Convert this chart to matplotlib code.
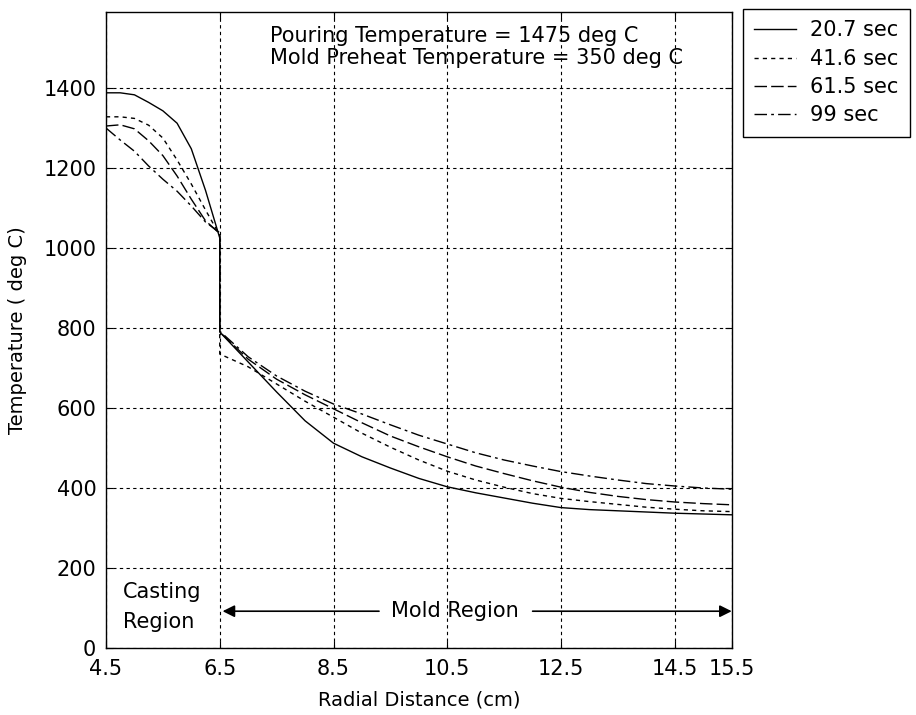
"""
Radial temperature profile through casting and mold at four times after pouring.
"""

import matplotlib
matplotlib.use('Agg')
import matplotlib.pyplot as plt

plt.rcParams.update({
    'font.family':      ['DejaVu Sans'],
    'font.size':        15,
    'axes.linewidth':   1.0,
    'axes.labelsize':   14,
    'xtick.direction':  'in',
    'ytick.direction':  'in',
    'xtick.top':        True,
    'ytick.right':      True,
    'xtick.major.size': 5,
    'ytick.major.size': 5,
    'xtick.major.pad':  8,
    'ytick.major.pad':  7,
    'xtick.labelsize':  15,
    'ytick.labelsize':  15,
})

# Radial positions (cm): casting side, then mold side (interface at 6.5 cm)
r_casting = [4.5, 4.75, 5.0, 5.25, 5.5, 5.75, 6.0, 6.25, 6.5]
r_mold    = [6.5, 7.0, 7.5, 8.0, 8.5, 9.0, 9.5, 10.0, 10.5, 11.0, 11.5,
             12.0, 12.5, 13.0, 13.5, 14.0, 14.5, 15.0, 15.5]

# Temperatures (deg C)
t207_casting = [1388, 1388, 1383, 1364, 1343, 1312, 1248, 1144, 1025]
t207_mold    = [790, 715, 640, 568, 512, 478, 450, 424, 403, 388, 375,
                362, 351, 346, 343, 340, 337, 335, 333]
t416_casting = [1328, 1328, 1324, 1307, 1275, 1220, 1160, 1095, 1032]
t416_mold    = [735, 703, 660, 617, 577, 537, 502, 470, 442, 420, 402,
                386, 374, 366, 359, 352, 347, 343, 341]
t615_casting = [1305, 1308, 1298, 1268, 1231, 1180, 1122, 1068, 1036]
t615_mold    = [790, 722, 672, 633, 598, 563, 530, 503, 478, 455, 436,
                418, 402, 389, 379, 371, 365, 361, 358]
t99_casting  = [1300, 1270, 1242, 1205, 1172, 1142, 1105, 1065, 1038]
t99_mold     = [792, 728, 680, 642, 610, 585, 558, 532, 510, 488, 470,
                455, 441, 430, 420, 411, 405, 400, 397]

labels = ['20.7 sec', '41.6 sec', '61.5 sec', '99 sec']
x_ticks = [4.5, 6.5, 8.5, 10.5, 12.5, 14.5, 15.5]
y_ticks = [0, 200, 400, 600, 800, 1000, 1200, 1400]

series = [
    (t207_casting, t207_mold, '-'),
    (t416_casting, t416_mold, (0, (3, 3))),
    (t615_casting, t615_mold, (0, (9, 3))),
    (t99_casting,  t99_mold,  (0, (9, 3, 2, 3))),
]

fig = plt.figure(figsize=(9.16, 7.15), dpi=100)
ax = fig.add_axes([0.1157, 0.0937, 0.6831, 0.8895])

handles = []
for (tc, tm, ls), lab in zip(series, labels):
    r = r_casting + r_mold
    t = tc + tm
    h, = ax.plot(r, t, color='black', linestyle=ls, linewidth=1.0, label=lab)
    handles.append(h)

ax.set_xlim(4.5, 15.5)
ax.set_ylim(0, 1590)
ax.set_xticks(x_ticks)
ax.set_xticklabels([f'{v:g}' for v in x_ticks])
ax.set_yticks(y_ticks)
ax.grid(True, color='black', linestyle=(0, (3, 3)), linewidth=0.8)
ax.set_xlabel('Radial Distance (cm)', labelpad=8)
ax.set_ylabel('Temperature ( deg C)', labelpad=12)

ax.text(7.38, 1530, 'Pouring Temperature = 1475 deg C', va='center', ha='left')
ax.text(7.38, 1475, 'Mold Preheat Temperature = 350 deg C', va='center', ha='left')

ax.text(4.8, 140, 'Casting', va='center', ha='left')
ax.text(4.8, 65, 'Region', va='center', ha='left')

# Mold region span arrows either side of the label
ax.text(10.63, 92, 'Mold Region', va='center', ha='center')
arrow = dict(arrowstyle='-|>', color='black', lw=1.2, mutation_scale=18,
             shrinkA=0, shrinkB=0)
ax.annotate('', xy=(6.55, 92), xytext=(9.3, 92), arrowprops=arrow)
ax.annotate('', xy=(15.5, 92), xytext=(12.0, 92), arrowprops=arrow)

leg = fig.legend(handles=handles, loc='upper left', fontsize=15,
                 bbox_to_anchor=(0.8108, 0.9874), fancybox=False,
                 edgecolor='black', framealpha=1, handlelength=2.0,
                 borderpad=0.55, labelspacing=0.4, handletextpad=0.7,
                 borderaxespad=0)
leg.get_frame().set_linewidth(1.0)

fig.savefig('out.png', dpi=100)
plt.close(fig)
